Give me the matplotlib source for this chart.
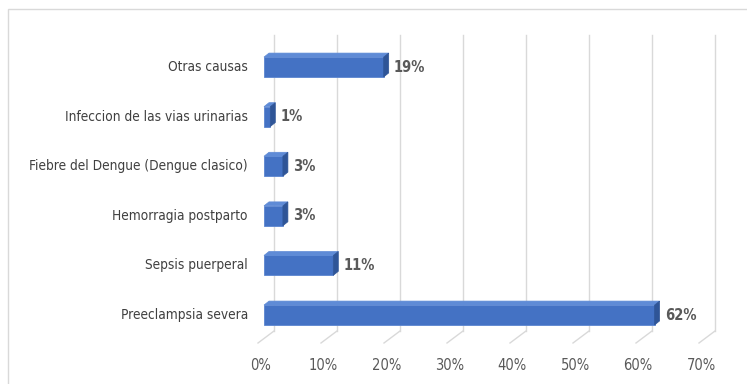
import matplotlib
matplotlib.use("Agg")
import matplotlib.pyplot as plt
from matplotlib.patches import Polygon, Rectangle
from matplotlib import font_manager
from matplotlib.font_manager import FontProperties

categories = ["Preeclampsia severa", "Sepsis puerperal", "Hemorragia postparto",
              "Fiebre del Dengue (Dengue clasico)", "Infeccion de las vias urinarias",
              "Otras causas"]
values = [62, 11, 3, 3, 1, 19]
value_labels = ["62%", "11%", "3%", "3%", "1%", "19%"]
ticks = [0, 10, 20, 30, 40, 50, 60, 70]
tick_labels = ["0%", "10%", "20%", "30%", "40%", "50%", "60%", "70%"]


def pick_font(bold=False, size=10):
    cands = []
    for f in font_manager.fontManager.ttflist:
        nm = f.fname.lower()
        if ("narrow" in nm or "condensed" in nm) and ("liberation" in nm or "dejavusans" in nm):
            isbold = "bold" in nm
            if isbold == bold and "oblique" not in nm and "italic" not in nm:
                cands.append(f.fname)
    cands.sort(key=lambda s: (0 if "liberation" in s.lower() else 1, len(s)))
    if cands:
        return FontProperties(fname=cands[0], size=size), True
    return FontProperties(family="Liberation Sans", weight="bold" if bold else "normal",
                          size=size * 0.92), False


cat_fp, cond = pick_font(False, 9.8)
val_fp, _ = pick_font(True, 10.5)
tick_fp, _ = pick_font(False, 10.5)

W, H = 747, 384
fig = plt.figure(figsize=(W / 100, H / 100), dpi=100)
fig.patches.append(Rectangle((8 / W, -0.1), 1.2, 1.1 - 9 / H, transform=fig.transFigure,
                             fill=False, edgecolor="#d9d9d9", linewidth=1.0))

px_per_unit = 6.3
x0_px = 264
y_top_px, y_bot_px = 42.2, 339.8
ax = fig.add_axes([x0_px / W, 1 - y_bot_px / H, 70 * px_per_unit / W, (y_bot_px - y_top_px) / H])
ax.set_xlim(0, 70)
ax.set_ylim(-0.5, 5.5)
ax.axis("off")

ypx = (y_bot_px - y_top_px) / 6
back_dx = 10 / px_per_unit
gy_bot = -0.5 + (y_bot_px - 331) / ypx
gy_top = -0.5 + (y_bot_px - 35) / ypx
fy = -0.5 + (y_bot_px - 343) / ypx
slant_dx = 16 / px_per_unit

for t, lab in zip(ticks, tick_labels):
    xb = t + back_dx
    ax.plot([xb, xb], [gy_bot, gy_top], color="#d9d9d9", lw=1.0, clip_on=False, zorder=1)
    ax.plot([xb, xb - slant_dx], [gy_bot, fy], color="#d9d9d9", lw=1.0, clip_on=False, zorder=1)
    ax.text(t - 0.6, -0.5 + (y_bot_px - 365) / ypx, lab, ha="center", va="center",
            fontproperties=tick_fp, color="#595959", clip_on=False)

bh = 0.40
ddx = 5 / px_per_unit
ddy = 4 / ypx
for i, (v, lab, cat) in enumerate(zip(values, value_labels, categories)):
    y0, y1 = i - bh / 2, i + bh / 2
    ax.barh(i, v, height=bh, left=0, color="#4472C4", edgecolor="#5b85d0", linewidth=0.6, zorder=3)
    ax.add_patch(Polygon([(0, y1), (v, y1), (v + ddx, y1 + ddy), (ddx, y1 + ddy)],
                         closed=True, facecolor="#5f8bd6", edgecolor="#5f8bd6", lw=0.5, zorder=3,
                         clip_on=False))
    ax.add_patch(Polygon([(v, y0), (v + ddx, y0 + ddy), (v + ddx, y1 + ddy), (v, y1)],
                         closed=True, facecolor="#2f5597", edgecolor="#2f5597", lw=0.5, zorder=3,
                         clip_on=False))
    ax.text(v + ddx + 0.8, i, lab, ha="left", va="center", fontproperties=val_fp,
            color="#595959", clip_on=False)
    ax.text(-16 / px_per_unit, i, cat, ha="right", va="center", fontproperties=cat_fp,
            color="#404040", clip_on=False)

fig.savefig("out.png", dpi=100)
